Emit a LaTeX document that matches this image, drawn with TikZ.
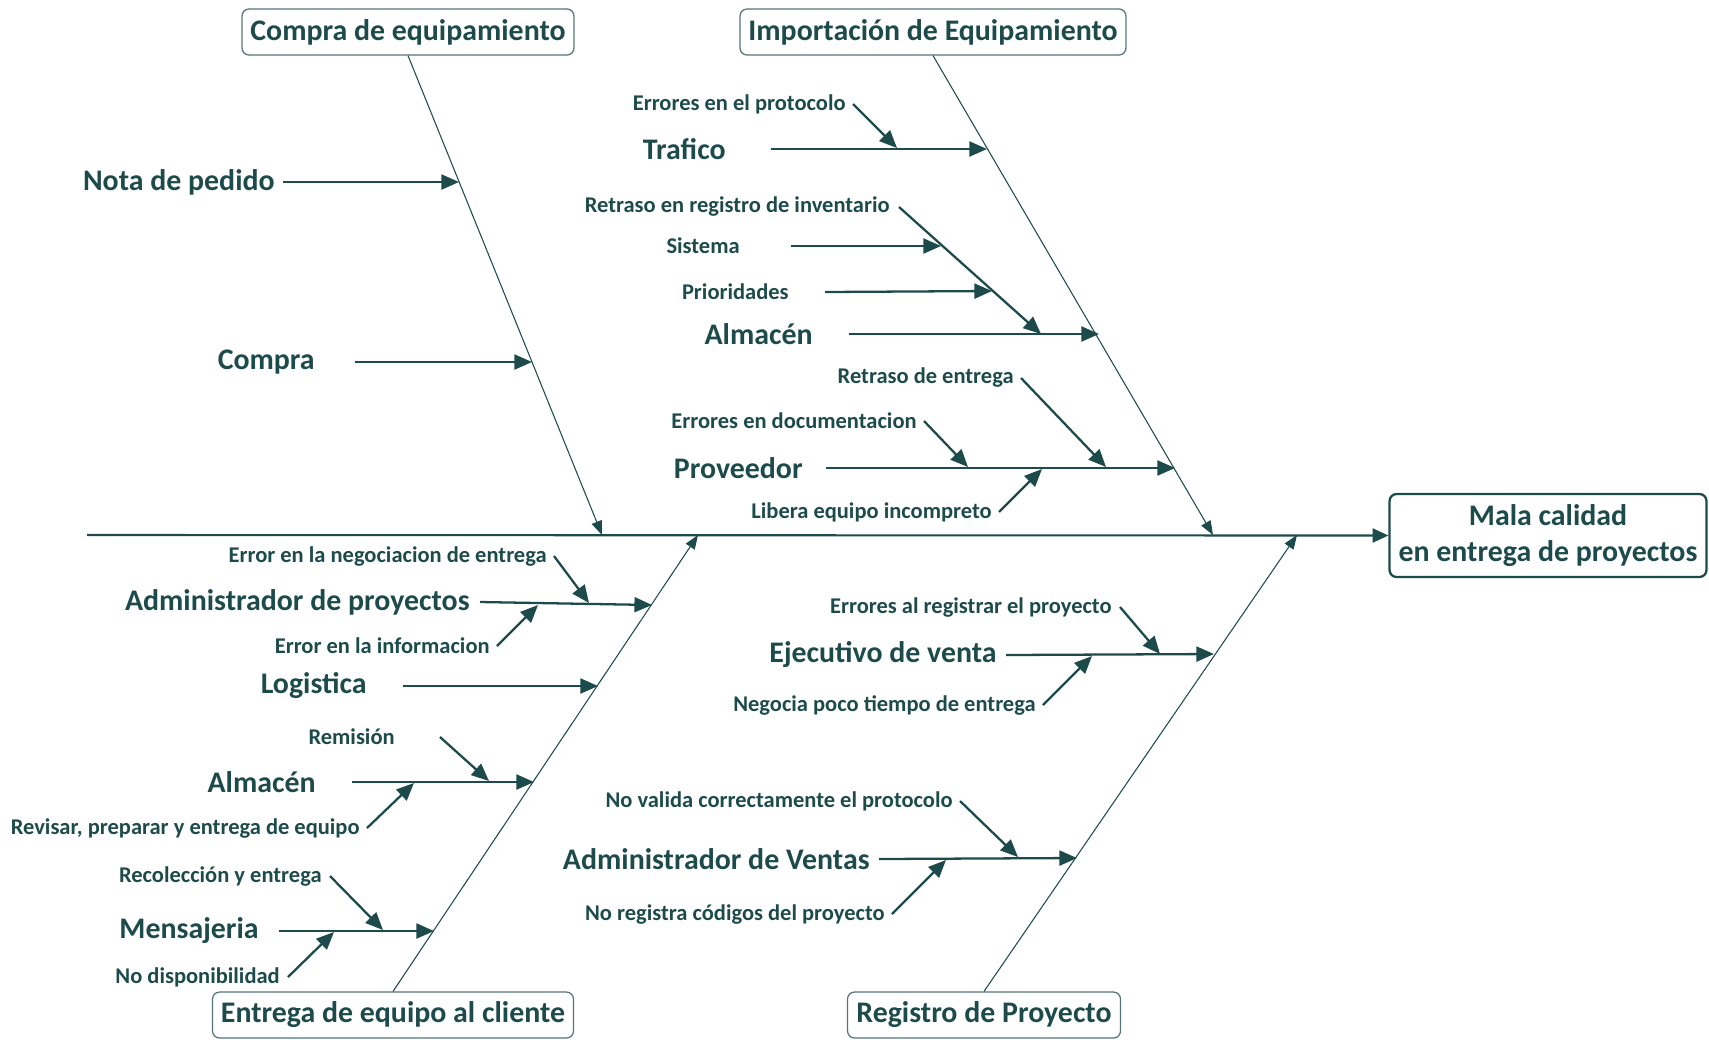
\documentclass[tikz,border=0pt]{standalone}
\usepackage{fontspec}
\setmainfont{Carlito}
\usetikzlibrary{arrows.meta}
\definecolor{fishTeal}{HTML}{1D4B4C}
\definecolor{boxBorder}{HTML}{557475}
\tikzset{
  arr/.style={-{Triangle[length=10pt,width=8.5pt]}, line width=1.3pt, fishTeal},
  bone/.style={-{Triangle[length=8pt,width=6pt]}, line width=0.6pt, fishTeal},
  spine/.style={-{Triangle[length=9pt,width=8pt]}, line width=1.2pt, fishTeal},
  cause/.style={anchor=east, inner sep=0pt, font=\fontsize{17}{19}\selectfont\bfseries, text=fishTeal},
  sub/.style={anchor=east, inner sep=0pt, font=\fontsize{12.8}{15}\selectfont\bfseries, text=fishTeal},
  catbox/.style={draw=boxBorder, line width=0.7pt, rounded corners=4pt, fill=white,
    minimum width=#1, minimum height=0.92cm, inner sep=2pt,
    font=\fontsize{17}{19}\selectfont\bfseries, text=fishTeal},
  effect/.style={draw=fishTeal, line width=1.3pt, rounded corners=4pt, fill=white,
    minimum width=6.34cm, minimum height=1.66cm, align=center, inner sep=2pt,
    font=\fontsize{17}{20.5}\selectfont\bfseries, text=fishTeal}
}
\begin{document}
\begin{tikzpicture}[x=0.02cm,y=-0.02cm]
  \useasboundingbox (0,0) rectangle (1709,1039);
  % head and spine
  \node[effect] (efecto) at (1548,535.5) {Mala calidad\\en entrega de proyectos};
  \coordinate (cola) at (87,535);
  \draw[spine] (cola) -- (efecto.west);

  % category boxes and bones
  \node[catbox=6.64cm] (compra) at (408,32) {Compra de equipamiento};
  \node[catbox=7.72cm] (importa) at (933,32) {Importación de Equipamiento};
  \node[catbox=7.22cm] (entrega) at (393,1015) {Entrega de equipo al cliente};
  \node[catbox=5.46cm] (registro) at (984,1015) {Registro de Proyecto};
  \coordinate (c1) at (602,535);
  \coordinate (c2) at (1213,535);
  \coordinate (c3) at (698,535);
  \coordinate (c4) at (1297,535);
  \draw[bone] (compra.south) -- (c1);
  \draw[bone] (importa.south) -- (c2);
  \draw[bone] (entrega.north) -- (c3);
  \draw[bone] (registro.north) -- (c4);

  % causes: name/text/text end/y/arrow start/arrow end x/arrow end y
  \foreach \n/\t/\r/\y/\sx/\ex/\ey in {
      nota/Nota de pedido/275/182/283/459/182,
      compr/Compra/315/362/355/532/362,
      trafico/Trafico/726/149/771/987/149,
      almA/Almacén/813/334/849/1099/334,
      prov/Proveedor/803/468/826/1175/468,
      admp/Administrador de proyectos/470/602/480/652/605,
      logi/Logistica/367/686/403/598/686,
      almB/Almacén/316/782/352/534/782,
      mens/Mensajeria/259/931/279/434/931,
      ejec/Ejecutivo de venta/997/655/1006/1214/654,
      admv/Administrador de Ventas/870/859/879/1077/858}{
    \node[cause] (\n) at (\r,\y) {\t};
    \coordinate (\n-s) at (\sx,\y);
    \coordinate (\n-e) at (\ex,\ey);
    \draw[arr] (\n-s) -- (\n-e);
  }

  % sub-causes
  \foreach \n/\t/\r/\y/\sx/\sy/\ex/\ey in {
      s1/Errores en el protocolo/846/104/853/104/897/148,
      s2/Retraso en registro de inventario/890/207/899/207/1041/334,
      s3/Sistema/740/246/791/246/941/246,
      s4/Prioridades/789/292/825/292/992/291,
      s5/Retraso de entrega/1014/378/1021/378/1106/467,
      s6/Errores en documentacion/917/421/924/421/968/467,
      s7/Libera equipo incompreto/992/512/999/512/1042/469,
      s8/Error en la negociacion de entrega/547/556/554/556/589/603,
      s9/Error en la informacion/490/646/497/646/538/605,
      s10/Remisión/395/737/440/737/489/781,
      s11/{Revisar, preparar y entrega de equipo}/360/828/367/828/414/783,
      s12/Recolección y entrega/322/876/330/876/383/930,
      s13/No disponibilidad/280/977/288/977/334/932,
      s14/Errores al registrar el proyecto/1112/607/1120/607/1160/654,
      s15/Negocia poco tiempo de entrega/1036/705/1043/705/1092/656,
      s16/No valida correctamente el protocolo/953/801/960/801/1018/857,
      s17/No registra códigos del proyecto/885/914/892/914/946/860}{
    \node[sub] (\n) at (\r,\y) {\t};
    \coordinate (\n-s) at (\sx,\sy);
    \coordinate (\n-e) at (\ex,\ey);
    \draw[arr] (\n-s) -- (\n-e);
  }
\end{tikzpicture}
\end{document}
